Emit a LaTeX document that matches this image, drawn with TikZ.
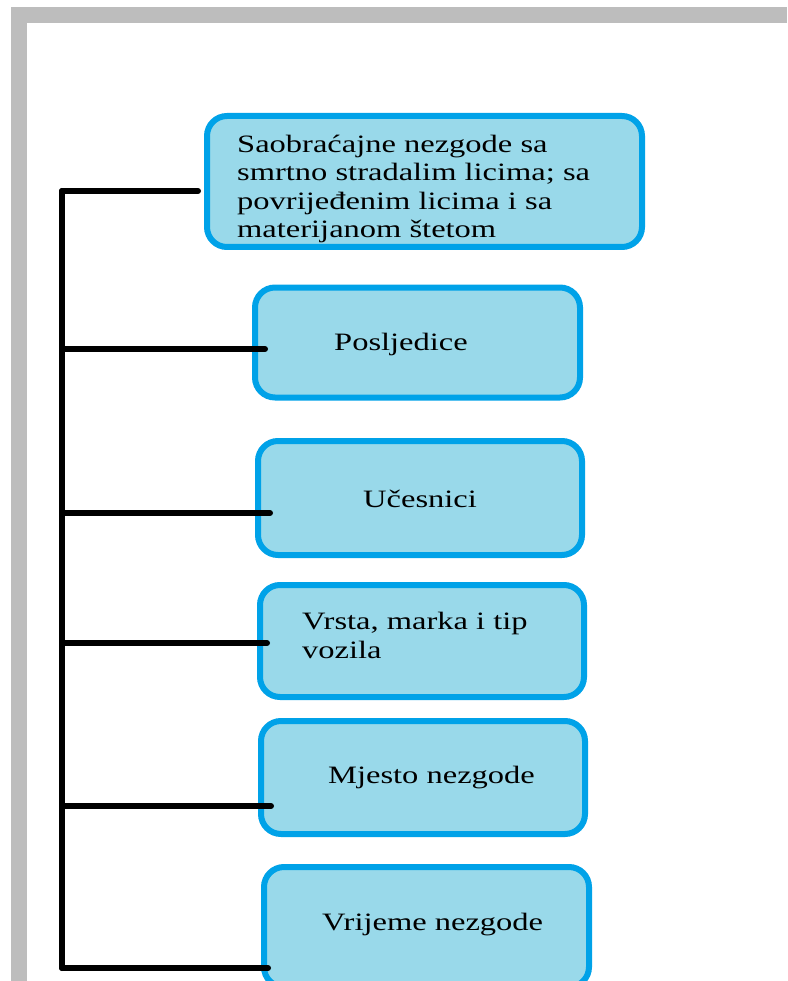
\documentclass[tikz,border=0pt]{standalone}
\usepackage{fontspec}
\setmainfont{Liberation Serif}[FakeStretch=1.3]
\definecolor{boxline}{HTML}{00A2E8}
\definecolor{boxfill}{HTML}{99D9EA}
\definecolor{framegrey}{HTML}{BDBDBD}
\begin{document}
\begin{tikzpicture}[x=1pt,y=-1pt,
  box/.style={draw=boxline, fill=boxfill, line width=6pt, rounded corners=20pt, inner sep=0pt},
  conn/.style={line width=6pt, line cap=round, draw=black},
  lbl/.style={font=\fontsize{25}{28.6}\selectfont, inner sep=0pt, text=black, align=left}]
\useasboundingbox (0,0) rectangle (787,981);
\fill[white] (0,0) rectangle (787,981);
\fill[framegrey] (11,7) rectangle (787,23);
\fill[framegrey] (11,7) rectangle (27,981);
\begin{scope}
\clip (0,0) rectangle (787,981);
% boxes
\node[box, minimum width=435pt, minimum height=131pt] (A) at (424.5,181.5) {};
\node[box, minimum width=325pt, minimum height=110pt] (B) at (417.5,342.5) {};
\node[box, minimum width=324pt, minimum height=114pt] (C) at (420,498) {};
\node[box, minimum width=324pt, minimum height=112pt] (D) at (422,641) {};
\node[box, minimum width=324pt, minimum height=113pt] (E) at (423,777.5) {};
\node[box, minimum width=325pt, minimum height=120pt] (F) at (426.5,927) {};
\end{scope}
% texts (base anchor = baseline of the last line)
\node[lbl, anchor=base west] (tA) at (237,238) {Saobraćajne nezgode sa\\smrtno stradalim licima; sa\\povrijeđenim licima i sa\\materijanom štetom};
\node[lbl, anchor=base west] (tB) at (334,350) {Posljedice};
\node[lbl, anchor=base west] (tC) at (363,507) {Učesnici};
\node[lbl, anchor=base west] (tD) at (302,658) {Vrsta, marka i tip\\vozila};
\node[lbl, anchor=base west] (tE) at (328,783) {Mjesto nezgode};
\node[lbl, anchor=base west] (tF) at (322,930) {Vrijeme nezgode};
% connectors
\coordinate (top) at (62,191);
\coordinate (bot) at (62,968);
\coordinate (eA) at (198,191);
\coordinate (eB) at (265,349);
\coordinate (eC) at (270,513);
\coordinate (eD) at (267,643);
\coordinate (eE) at (271,806);
\coordinate (eF) at (268,968);
\draw[conn] (top) -- (bot);
\draw[conn] (top) -- (eA);
\draw[conn] (eB -| top) -- (eB);
\draw[conn] (eC -| top) -- (eC);
\draw[conn] (eD -| top) -- (eD);
\draw[conn] (eE -| top) -- (eE);
\draw[conn] (bot) -- (eF);
\end{tikzpicture}
\end{document}
